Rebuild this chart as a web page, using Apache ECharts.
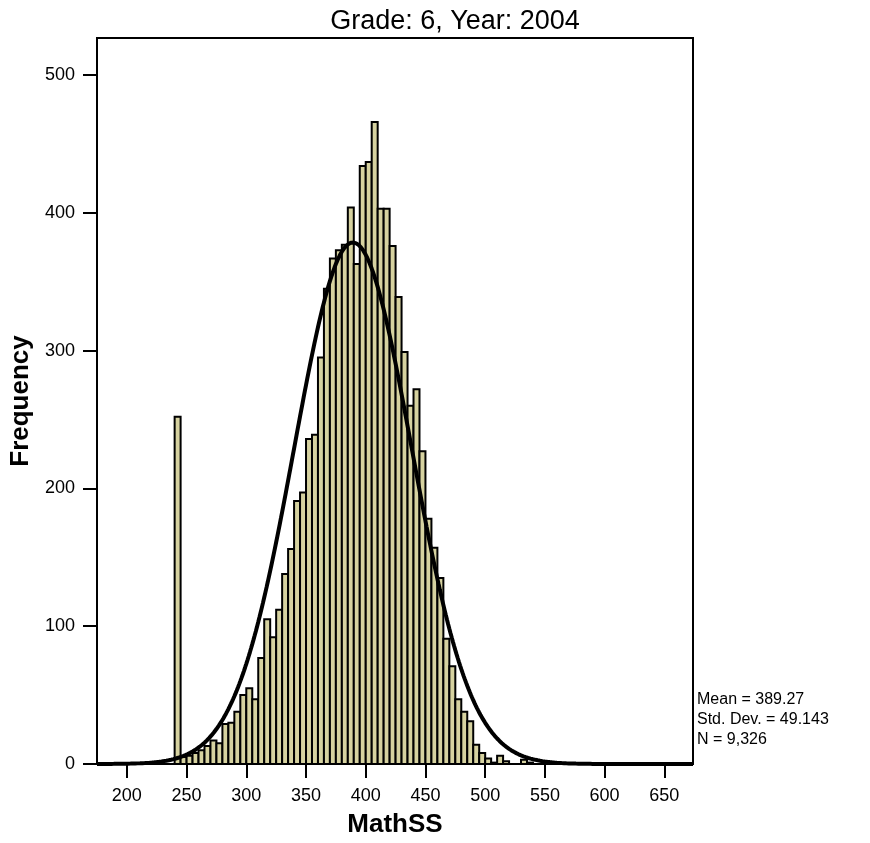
<!DOCTYPE html>
<html>
<head>
<meta charset="utf-8">
<script src="https://cdn.jsdelivr.net/npm/echarts@6/dist/echarts.min.js"></script>
<style>
html,body{margin:0;padding:0;background:#fff;}
#chart{width:870px;height:843px;}
</style>
</head>
<body>
<div id="chart"></div>
<script>
// Histogram bins (lower edges, width 5) and counts
const binStarts = [240,245,250,255,260,265,270,275,280,285,290,295,300,305,310,315,320,325,330,335,340,345,350,355,360,365,370,375,380,385,390,395,400,405,410,415,420,425,430,435,440,445,450,455,460,465,470,475,480,485,490,495,500,505,510,515,520,525,530,535];
const counts    = [252,5,6,8,10,13,17,15,29,30,38,50,55,47,77,105,92,112,138,156,191,197,236,239,295,345,367,373,377,404,363,434,437,466,403,403,376,339,299,260,272,227,178,157,135,91,71,47,38,31,14,8,4,1,6,2,0,0,3,1];
const BIN_WIDTH = 5;
const MEAN = 389.27;
const SD = 49.143;
const N = 9326;
const xTicks = [200,250,300,350,400,450,500,550,600,650];
const yTicks = [0,100,200,300,400,500];
const statsLines = ['Mean = 389.27','Std. Dev. = 49.143','N = 9,326'];

const X_MIN = 175, X_MAX = 674, Y_MIN = 0, Y_MAX = 527;

const barData = binStarts.map((s, i) => [s, counts[i]]);
// fitted normal curve defined by the stated mean, SD, N
const curve = [];
for (let x = X_MIN; x <= X_MAX; x += 1) {
  const z = (x - MEAN) / SD;
  curve.push([x, N * BIN_WIDTH * Math.exp(-0.5 * z * z) / (SD * Math.sqrt(2 * Math.PI))]);
}

const chart = echarts.init(document.getElementById('chart'), null, {renderer: 'canvas'});
const FONT = 'Liberation Sans, Arial, sans-serif';
chart.setOption({
  animation: false,
  backgroundColor: '#fff',
  title: {
    text: 'Grade: 6, Year: 2004',
    left: 450, top: 3, textAlign: 'center',
    textStyle: {fontFamily: FONT, fontSize: 27, fontWeight: 'normal', color: '#000'}
  },
  grid: {left: 97, right: 177, top: 38, bottom: 75, show: true, borderColor: '#000', borderWidth: 2, backgroundColor: 'transparent'},
  xAxis: {
    type: 'value', min: X_MIN, max: X_MAX,
    name: 'MathSS', nameLocation: 'middle', nameGap: 48,
    nameTextStyle: {fontFamily: FONT, fontSize: 26, fontWeight: 'bold', color: '#000'},
    axisLine: {show: true, lineStyle: {color: '#000', width: 2}},
    axisTick: {show: true, length: 14, lineStyle: {color: '#000', width: 2}, customValues: xTicks},
    axisLabel: {fontFamily: FONT, fontSize: 18, color: '#000', margin: 23, customValues: xTicks},
    splitLine: {show: false}
  },
  yAxis: {
    type: 'value', min: Y_MIN, max: Y_MAX,
    name: 'Frequency', nameLocation: 'middle', nameGap: 61,
    nameTextStyle: {fontFamily: FONT, fontSize: 26, fontWeight: 'bold', color: '#000'},
    axisLine: {show: true, lineStyle: {color: '#000', width: 2}},
    axisTick: {show: true, length: 14, lineStyle: {color: '#000', width: 2}, customValues: yTicks},
    axisLabel: {fontFamily: FONT, fontSize: 18, color: '#000', margin: 22, customValues: yTicks},
    splitLine: {show: false}
  },
  graphic: [{
    type: 'text', left: 697, top: 690, z: 100,
    style: {text: statsLines.join('\n'), fontFamily: FONT, fontSize: 16, lineHeight: 20, fill: '#000'}
  }],
  series: [{
    type: 'custom',
    data: barData,
    clip: true,
    renderItem: function (params, api) {
      const x0 = api.value(0), c = api.value(1);
      const p0 = api.coord([x0, c]);
      const p1 = api.coord([x0 + BIN_WIDTH, 0]);
      return {
        type: 'rect',
        shape: {x: p0[0], y: p0[1], width: p1[0] - p0[0], height: p1[1] - p0[1]},
        style: {fill: '#d6d2a0', stroke: '#000', lineWidth: 2}
      };
    },
    z: 2
  }, {
    type: 'line',
    data: curve,
    showSymbol: false,
    symbol: 'none',
    smooth: false,
    clip: true,
    lineStyle: {color: '#000', width: 4},
    z: 3
  }]
});
</script>
</body>
</html>
